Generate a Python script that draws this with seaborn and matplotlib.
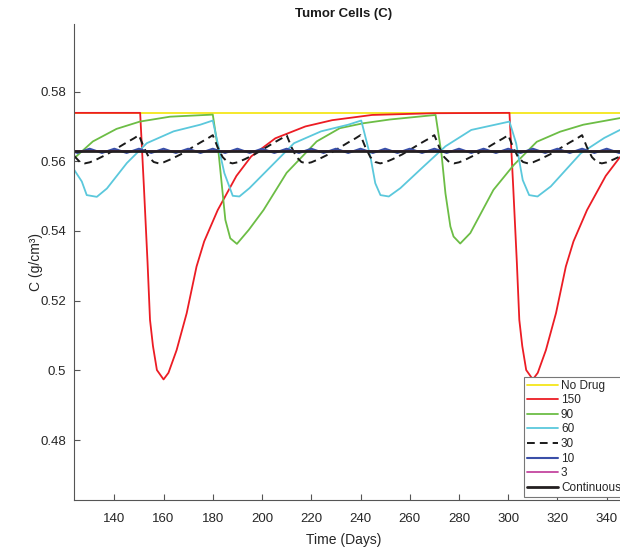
import matplotlib
matplotlib.use('Agg')
import matplotlib.pyplot as plt
import seaborn as sns

# ---- data ----
nodrug_t = [123.75, 345.4]
nodrug_c = [0.5740, 0.5740]

d150_t = [123.75, 150.5, 152.0, 153.5, 154.5, 155.7, 157.3, 160.0, 162.0, 165.3, 169.4,
          173.4, 176.5, 182.0, 189.6, 195.6, 205.4, 217.6, 228.5, 244.7, 270.0,
          300.5, 302.0, 303.5, 304.5, 305.7, 307.3, 310.0, 312.0, 315.3, 319.4,
          323.4, 326.5, 332.0, 339.6, 345.4]
d150_c = [0.5739, 0.5739, 0.5530, 0.5310, 0.5145, 0.5070, 0.5001, 0.4974, 0.4993, 0.5058, 0.5164,
          0.5298, 0.5370, 0.5460, 0.5558, 0.5614, 0.5666, 0.5700, 0.5718, 0.5733, 0.5738,
          0.5739, 0.5530, 0.5310, 0.5145, 0.5070, 0.5001, 0.4974, 0.4993, 0.5058, 0.5164,
          0.5298, 0.5370, 0.5460, 0.5558, 0.5612]

d90_t = [123.75, 131.3, 140.9, 150.4, 162.6, 180.0, 182.4, 185.1, 187.1, 189.8, 194.6,
         200.6, 210.0, 222.2, 231.6, 241.0, 252.0, 270.5, 272.9, 274.5, 276.5, 277.8,
         280.5, 284.6, 294.0, 302.2, 311.6, 321.1, 330.5, 345.4]
d90_c = [0.5609, 0.5657, 0.5693, 0.5714, 0.5728, 0.5734, 0.5621, 0.5432, 0.5379, 0.5363, 0.5403,
         0.5460, 0.5567, 0.5657, 0.5695, 0.5709, 0.5720, 0.5733, 0.5621, 0.5508, 0.5413, 0.5384,
         0.5364, 0.5394, 0.5518, 0.5589, 0.5656, 0.5685, 0.5705, 0.5724]

d60_t = [123.75, 126.8, 128.8, 132.9, 137.0, 145.1, 153.2, 164.1, 174.9, 180.0, 182.0,
         184.7, 188.1, 190.8, 194.9, 205.0, 213.0, 224.0, 235.0, 240.3, 244.0, 246.0,
         248.1, 251.5, 256.2, 265.6, 274.5, 285.0, 300.5, 303.2, 305.9, 308.5, 311.9,
         317.3, 329.5, 339.0, 345.4]
d60_c = [0.5575, 0.5542, 0.5503, 0.5498, 0.5522, 0.5595, 0.5652, 0.5686, 0.5705, 0.5717, 0.5652,
         0.5566, 0.5501, 0.5499, 0.5523, 0.5595, 0.5652, 0.5686, 0.5705, 0.5717, 0.5614, 0.5537,
         0.5503, 0.5499, 0.5523, 0.5585, 0.5643, 0.5690, 0.5714, 0.5652, 0.5546, 0.5503, 0.5499,
         0.5528, 0.5623, 0.5667, 0.5690]

d30_t = [123.75, 126, 128, 130, 133, 137, 141, 145, 148,
         150, 152, 154, 156, 158, 160, 163, 167, 171, 175, 178,
         180, 182, 184, 186, 188, 190, 193, 197, 201, 205, 208,
         210, 212, 214, 216, 218, 220, 223, 227, 231, 235, 238,
         240, 242, 244, 246, 248, 250, 253, 257, 261, 265, 268,
         270, 272, 274, 276, 278, 280, 283, 287, 291, 295, 298,
         300, 302, 304, 306, 308, 310, 313, 317, 321, 325, 328,
         330, 332, 334, 336, 338, 340, 343, 345.4]
d30_c = [0.5615, 0.5598, 0.5594, 0.5597, 0.5606, 0.5620, 0.5637, 0.5654, 0.5666,
         0.5675, 0.5640, 0.5612, 0.5598, 0.5594, 0.5597, 0.5606, 0.5620, 0.5637, 0.5654, 0.5666,
         0.5675, 0.5640, 0.5612, 0.5598, 0.5594, 0.5597, 0.5606, 0.5620, 0.5637, 0.5654, 0.5666,
         0.5675, 0.5640, 0.5612, 0.5598, 0.5594, 0.5597, 0.5606, 0.5620, 0.5637, 0.5654, 0.5666,
         0.5675, 0.5640, 0.5612, 0.5598, 0.5594, 0.5597, 0.5606, 0.5620, 0.5637, 0.5654, 0.5666,
         0.5675, 0.5640, 0.5612, 0.5598, 0.5594, 0.5597, 0.5606, 0.5620, 0.5637, 0.5654, 0.5666,
         0.5675, 0.5640, 0.5612, 0.5598, 0.5594, 0.5597, 0.5606, 0.5620, 0.5637, 0.5654, 0.5666,
         0.5675, 0.5640, 0.5612, 0.5598, 0.5594, 0.5597, 0.5606, 0.5614]

d10_t = [123.75, 125, 127.5,
         130, 132.5, 135, 137.5, 140, 142.5, 145, 147.5, 150, 152.5, 155, 157.5,
         160, 162.5, 165, 167.5, 170, 172.5, 175, 177.5, 180, 182.5, 185, 187.5,
         190, 192.5, 195, 197.5, 200, 202.5, 205, 207.5, 210, 212.5, 215, 217.5,
         220, 222.5, 225, 227.5, 230, 232.5, 235, 237.5, 240, 242.5, 245, 247.5,
         250, 252.5, 255, 257.5, 260, 262.5, 265, 267.5, 270, 272.5, 275, 277.5,
         280, 282.5, 285, 287.5, 290, 292.5, 295, 297.5, 300, 302.5, 305, 307.5,
         310, 312.5, 315, 317.5, 320, 322.5, 325, 327.5, 330, 332.5, 335, 337.5,
         340, 342.5, 345, 345.4]
d10_c = [0.5627, 0.5624, 0.5630,
         0.5636, 0.5630, 0.5624, 0.5630, 0.5636, 0.5630, 0.5624, 0.5630, 0.5636, 0.5630, 0.5624, 0.5630,
         0.5636, 0.5630, 0.5624, 0.5630, 0.5636, 0.5630, 0.5624, 0.5630, 0.5636, 0.5630, 0.5624, 0.5630,
         0.5636, 0.5630, 0.5624, 0.5630, 0.5636, 0.5630, 0.5624, 0.5630, 0.5636, 0.5630, 0.5624, 0.5630,
         0.5636, 0.5630, 0.5624, 0.5630, 0.5636, 0.5630, 0.5624, 0.5630, 0.5636, 0.5630, 0.5624, 0.5630,
         0.5636, 0.5630, 0.5624, 0.5630, 0.5636, 0.5630, 0.5624, 0.5630, 0.5636, 0.5630, 0.5624, 0.5630,
         0.5636, 0.5630, 0.5624, 0.5630, 0.5636, 0.5630, 0.5624, 0.5630, 0.5636, 0.5630, 0.5624, 0.5630,
         0.5636, 0.5630, 0.5624, 0.5630, 0.5636, 0.5630, 0.5624, 0.5630, 0.5636, 0.5630, 0.5624, 0.5630,
         0.5636, 0.5630, 0.5624, 0.5624]

d3_t = [123.75, 345.4]
d3_c = [0.5630, 0.5630]

cont_t = [123.75, 345.4]
cont_c = [0.5630, 0.5630]

xticks = [140, 160, 180, 200, 220, 240, 260, 280, 300, 320, 340]
yticks = [0.48, 0.50, 0.52, 0.54, 0.56, 0.58]
ytick_labels = ['0.48', '0.5', '0.52', '0.54', '0.56', '0.58']

# ---- plot ----
sns.set_style('white')
plt.rcParams['font.family'] = ['Liberation Sans', 'DejaVu Sans']

W, H = 620, 553
fig = plt.figure(figsize=(W / 100, H / 100), dpi=100)
ax = fig.add_axes([74.3 / W, 1 - 500 / H, (W - 74.3) / W, (500 - 24) / H])

lw = 1.3
sns.lineplot(x=nodrug_t, y=nodrug_c, ax=ax, color='#f4e61a', lw=lw, label='No Drug', sort=False)
sns.lineplot(x=d150_t, y=d150_c, ax=ax, color='#ec1c24', lw=lw, label='150', sort=False)
sns.lineplot(x=d90_t, y=d90_c, ax=ax, color='#6cbd45', lw=lw, label='90', sort=False)
sns.lineplot(x=d60_t, y=d60_c, ax=ax, color='#5bc8dc', lw=lw, label='60', sort=False)
sns.lineplot(x=d30_t, y=d30_c, ax=ax, color='#1a1a1a', lw=1.4, label='30', sort=False,
             linestyle=(0, (4, 2.6)))
sns.lineplot(x=d10_t, y=d10_c, ax=ax, color='#3a4fa8', lw=1.5, label='10', sort=False)
sns.lineplot(x=d3_t, y=d3_c, ax=ax, color='#c4459f', lw=lw, label='3', sort=False)
sns.lineplot(x=cont_t, y=cont_c, ax=ax, color='#231f20', lw=2.0, label='Continuous', sort=False)

ax.set_xlim(123.75, 345.4)
ax.set_ylim(0.4628, 0.5994)
ax.set_xticks(xticks)
ax.set_yticks(yticks)
ax.set_yticklabels(ytick_labels)

for side in ['top', 'right']:
    ax.spines[side].set_visible(False)
for side in ['left', 'bottom']:
    ax.spines[side].set_color('#555555')
    ax.spines[side].set_linewidth(0.8)
ax.tick_params(bottom=True, left=True, direction='in', length=4, width=0.8, color='#555555',
               labelsize=9.5, labelcolor='#262626')
ax.tick_params(axis='x', pad=9)
ax.tick_params(axis='y', pad=6)

ax.set_title('Tumor Cells (C)', fontweight='bold', fontsize=9.5, x=0.494, pad=5, color='#1a1a1a')
ax.set_xlabel('Time (Days)', fontsize=10, color='#262626')
ax.xaxis.set_label_coords(0.494, -0.07)
ax.set_ylabel('C (g/cm³)', fontsize=10, color='#262626')
ax.yaxis.set_label_coords(-0.057, 0.5)

leg = ax.legend(loc='upper left', bbox_to_anchor=(524.3 / W, 1 - 376.7 / H),
                bbox_transform=fig.transFigure, fontsize=8.5, frameon=True, fancybox=False,
                framealpha=1, edgecolor='#777777', borderpad=0.25, labelspacing=0.22,
                handlelength=2.6, handletextpad=0.25, borderaxespad=0)
leg.get_frame().set_linewidth(0.8)

fig.savefig('out.png', dpi=100)
